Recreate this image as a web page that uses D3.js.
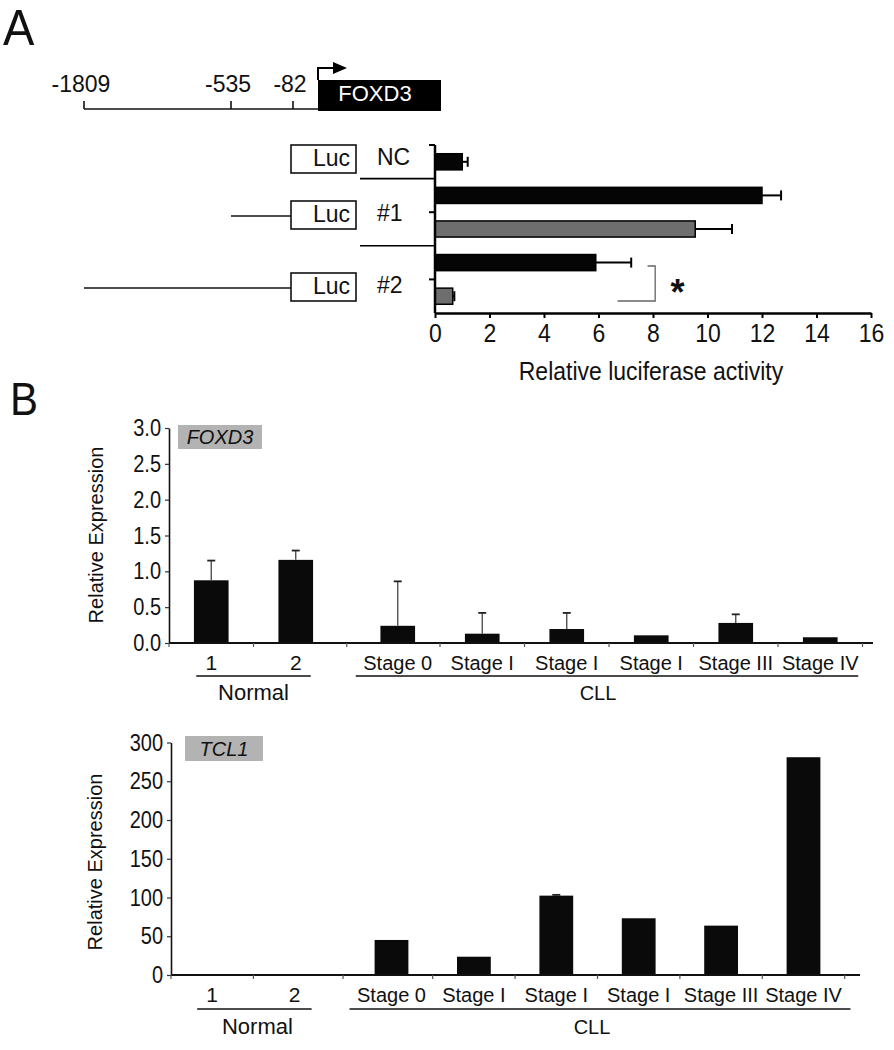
<!DOCTYPE html>
<html><head><meta charset="utf-8">
<script src="https://cdn.jsdelivr.net/npm/d3@7"></script>
<style>
body{margin:0;background:#fff}
text{font-family:"Liberation Sans",Arial,Helvetica,sans-serif;fill:#111}
</style>
</head><body>
<svg id="c" width="894" height="1050"></svg>
<script>
// ---------------- Panel A data ----------------
const promoterSites = [-1809, -535, -82];
const constructs = ["NC", "#1", "#2"];
const constructStart = [null, -535, -1809];
const lucBlack = [1.0, 12.0, 5.9];
const lucBlackErr = [0.2, 0.7, 1.3];
const lucGrey = [null, 9.55, 0.65];
const lucGreyErr = [null, 1.35, 0.06];
const lucTicks = [0, 2, 4, 6, 8, 10, 12, 14, 16];

// ---------------- Panel B data ----------------
const sampleLabels = ["1", "2", "Stage 0", "Stage I", "Stage I", "Stage I", "Stage III", "Stage IV"];
const sampleGroups = ["Normal", "Normal", "CLL", "CLL", "CLL", "CLL", "CLL", "CLL"];
const foxd3Values = [0.875, 1.16, 0.24, 0.13, 0.195, 0.107, 0.28, 0.08];
const foxd3Err = [0.275, 0.13, 0.62, 0.29, 0.225, 0, 0.12, 0];
const foxd3Ticks = [0, 0.5, 1, 1.5, 2, 2.5, 3];
const tcl1Values = [1.0, 1.2, 45.2, 23.6, 102.4, 73.2, 63.7, 281];
const tcl1Err = [0, 0, 0, 0, 1.0, 0, 0, 0];
const tcl1Ticks = [0, 50, 100, 150, 200, 250, 300];

const svg = d3.select("#c");
svg.append("rect").attr("width", 894).attr("height", 1050).attr("fill", "#fff");

// text with a slight vertical stretch (reference glyphs are taller than wide)
function stretchText(sel, x, y, s) {
  return sel.append("text").attr("transform", `translate(${x},${y}) scale(1,${s})`);
}

// ================= PANEL A =================
stretchText(svg, 3, 45, 1.05).attr("font-size", 47).text("A");

// promoter map (schematic, not to scale)
const px = d3.scaleLinear().domain([-1809, -535, -82, 0]).range([84, 231, 293, 318]);
const mapY = 109;
svg.append("line").attr("x1", px(-1809)).attr("x2", px(0)).attr("y1", mapY).attr("y2", mapY)
  .attr("stroke", "#111").attr("stroke-width", 1.6);
promoterSites.forEach(s => {
  svg.append("line").attr("x1", px(s)).attr("x2", px(s)).attr("y1", mapY).attr("y2", mapY - 8)
    .attr("stroke", "#111").attr("stroke-width", 1.6);
  svg.append("text").attr("x", px(s) - 3).attr("y", 92).attr("text-anchor", "middle")
    .attr("font-size", 23).text(s);
});
svg.append("rect").attr("x", px(0)).attr("y", 80).attr("width", 123).attr("height", 31).attr("fill", "#000");
svg.append("text").attr("x", px(0) + 57).attr("y", 101).attr("text-anchor", "middle")
  .attr("font-size", 22).style("fill", "#fff").text("FOXD3");
svg.append("path").attr("d", `M${px(0)},80V68H335`).attr("fill", "none").attr("stroke", "#000").attr("stroke-width", 2);
svg.append("path").attr("d", `M333,62L347,68L333,74Z`).attr("fill", "#000");

// luciferase bar chart
const lx = d3.scaleLinear().domain([0, 16]).range([435, 871]);
const barRows = [];
constructs.forEach((c, i) => {
  barRows.push({ c, i, s: "black", v: lucBlack[i], e: lucBlackErr[i] });
  if (lucGrey[i] != null) barRows.push({ c, i, s: "grey", v: lucGrey[i], e: lucGreyErr[i] });
});
const ly = d3.scaleBand().domain(barRows.map((d, k) => k)).range([145, 313])
  .paddingInner(0.52).paddingOuter(0.26);
const bw = ly.bandwidth();
const gBars = svg.append("g");
barRows.forEach((d, k) => {
  const y = ly(k);
  gBars.append("rect").attr("x", lx(0)).attr("y", y).attr("width", lx(d.v) - lx(0)).attr("height", bw)
    .attr("fill", d.s === "black" ? "#050505" : "#6e6e6e").attr("stroke", "#000").attr("stroke-width", 1.5);
  const cy = y + bw / 2;
  gBars.append("line").attr("x1", lx(d.v)).attr("x2", lx(d.v + d.e)).attr("y1", cy).attr("y2", cy)
    .attr("stroke", "#000").attr("stroke-width", 2);
  gBars.append("line").attr("x1", lx(d.v + d.e)).attr("x2", lx(d.v + d.e)).attr("y1", cy - 5).attr("y2", cy + 5)
    .attr("stroke", "#000").attr("stroke-width", 2);
});
// y axis of luciferase chart
const yAxisA = svg.append("g");
yAxisA.append("line").attr("x1", lx(0)).attr("x2", lx(0)).attr("y1", 145).attr("y2", 313)
  .attr("stroke", "#000").attr("stroke-width", 2.5);
yAxisA.append("line").attr("x1", lx(0) - 6).attr("x2", lx(0)).attr("y1", 145).attr("y2", 145)
  .attr("stroke", "#000").attr("stroke-width", 2);
const step = ly.step();
let k0 = 0;
constructs.forEach((c, i) => {
  const n = barRows.filter(d => d.i === i).length;
  if (n === 2) {
    const t = ly(k0) + bw + (step - bw) / 2;
    yAxisA.append("line").attr("x1", lx(0) - 6).attr("x2", lx(0)).attr("y1", t).attr("y2", t)
      .attr("stroke", "#000").attr("stroke-width", 2);
  }
  k0 += n;
  if (i < constructs.length - 1) {
    const sep = ly(k0 - 1) + bw + (step - bw) / 2;
    yAxisA.append("line").attr("x1", 360).attr("x2", lx(0)).attr("y1", sep).attr("y2", sep)
      .attr("stroke", "#000").attr("stroke-width", 1.6);
  }
});
const xAxisA = svg.append("g").attr("transform", "translate(0,313)")
  .call(d3.axisBottom(lx).tickValues(lucTicks).tickSize(5).tickSizeOuter(0).tickPadding(7));
xAxisA.select(".domain").attr("stroke", "#000").attr("stroke-width", 2.5);
xAxisA.selectAll(".tick line").attr("stroke", "#000").attr("stroke-width", 2);
xAxisA.selectAll(".tick text").attr("font-size", 23).attr("font-family", null).style("fill", "#111")
  .attr("y", 0).attr("dy", null).attr("transform", "translate(0,29) scale(1,1.12)");
stretchText(svg, 651, 380, 1.12).attr("text-anchor", "middle").attr("font-size", 23)
  .text("Relative luciferase activity");
// significance bracket
svg.append("path").attr("d", `M${lx(6.7)},301H${lx(8.08)}V266H${lx(7.8)}`)
  .attr("fill", "none").attr("stroke", "#666").attr("stroke-width", 1.3);
svg.append("text").attr("x", lx(8.9)).attr("y", 305).attr("text-anchor", "middle")
  .attr("font-size", 36).attr("font-weight", "bold").text("*");

// construct schematics
const rowY = d3.scaleOrdinal().domain(constructs).range([159, 215, 287]);
constructs.forEach((c, i) => {
  const cy = rowY(c);
  if (constructStart[i] != null) {
    svg.append("line").attr("x1", px(constructStart[i])).attr("x2", 291).attr("y1", cy + 1).attr("y2", cy + 1)
      .attr("stroke", "#111").attr("stroke-width", 1.6);
  }
  svg.append("rect").attr("x", 291).attr("y", cy - 14).attr("width", 65).attr("height", 28)
    .attr("fill", "#fff").attr("stroke", "#111").attr("stroke-width", 1.6);
  stretchText(svg, 350, cy + 7, 1.08).attr("text-anchor", "end").attr("font-size", 23).text("Luc");
  svg.append("text").attr("x", 377).attr("y", cy + 6).attr("font-size", 23).text(c);
});

// ================= PANEL B =================
stretchText(svg, 10, 415, 1.12).attr("font-size", 42).text("B");

function drawExpr(cfg) {
  const g = svg.append("g");
  const n = sampleLabels.length;
  const band = d3.scaleBand().domain(d3.range(n)).range([cfg.x0, cfg.x0 + n * cfg.step])
    .paddingInner(0.59).paddingOuter(0.295);
  const off = i => sampleGroups[i] === "CLL" ? cfg.gap : 0;
  const cx = i => band(i) + off(i) + band.bandwidth() / 2;
  const y = d3.scaleLinear().domain(cfg.domain).range([cfg.yBot, cfg.yTop]);
  const w = band.bandwidth();

  // bars
  cfg.values.forEach((v, i) => {
    g.append("rect").attr("x", cx(i) - w / 2).attr("y", y(v)).attr("width", w).attr("height", y(0) - y(v))
      .attr("fill", "#0a0a0a");
    const e = cfg.err[i];
    if (e > 0) {
      g.append("line").attr("x1", cx(i)).attr("x2", cx(i)).attr("y1", y(v)).attr("y2", y(v + e))
        .attr("stroke", "#444").attr("stroke-width", 1.3);
      g.append("line").attr("x1", cx(i) - 4).attr("x2", cx(i) + 4).attr("y1", y(v + e)).attr("y2", y(v + e))
        .attr("stroke", "#222").attr("stroke-width", 1.8);
    }
  });

  // y axis
  const ya = g.append("g").attr("transform", `translate(${cfg.x0},0)`)
    .call(d3.axisLeft(y).tickValues(cfg.ticks).tickFormat(d3.format(cfg.fmt)).tickSize(4).tickSizeOuter(0).tickPadding(4));
  ya.select(".domain").attr("stroke", "#111").attr("stroke-width", 1.6);
  ya.selectAll(".tick line").attr("stroke", "#333").attr("stroke-width", 1.2);
  ya.selectAll(".tick text").attr("font-size", 20).attr("font-family", null).style("fill", "#111")
    .attr("transform", "scale(1,1.18)");

  // x axis
  g.append("line").attr("x1", cfg.x0).attr("x2", cfg.axisEnd).attr("y1", y(0)).attr("y2", y(0))
    .attr("stroke", "#111").attr("stroke-width", 2);
  for (let i = 0; i <= n; i++) {
    let b;
    if (i < n && i > 0 && sampleGroups[i] !== sampleGroups[i - 1]) b = cfg.x0 + i * cfg.step + cfg.gap / 2;
    else b = cfg.x0 + i * cfg.step + (i === 0 ? 0 : off(Math.min(i, n - 1)));
    g.append("line").attr("x1", b).attr("x2", b).attr("y1", y(0)).attr("y2", y(0) + 4)
      .attr("stroke", "#555").attr("stroke-width", 1.2);
  }
  sampleLabels.forEach((l, i) => {
    g.append("text").attr("x", cx(i)).attr("y", cfg.catBase).attr("text-anchor", "middle")
      .attr("font-size", l.length < 3 ? 21 : 20).text(l);
  });
  // group underlines and labels
  const groups = Array.from(new Set(sampleGroups));
  groups.forEach(gr => {
    const idx = d3.range(n).filter(i => sampleGroups[i] === gr);
    const pad = cfg.underPad[gr];
    const x1 = cx(idx[0]) - pad[0], x2 = cx(idx[idx.length - 1]) + pad[1];
    g.append("line").attr("x1", x1).attr("x2", x2).attr("y1", cfg.underY).attr("y2", cfg.underY)
      .attr("stroke", "#111").attr("stroke-width", 1.5);
    g.append("text").attr("x", (x1 + x2) / 2 + cfg.groupShift[gr]).attr("y", cfg.groupBase)
      .attr("text-anchor", "middle").attr("font-size", gr === "Normal" ? 22 : 20).text(gr);
  });

  // gene label box
  g.append("rect").attr("x", cfg.boxX).attr("y", cfg.boxY).attr("width", cfg.boxW).attr("height", cfg.boxH)
    .attr("fill", "#b3b3b3");
  g.append("text").attr("x", cfg.boxX + cfg.boxW / 2).attr("y", cfg.boxY + cfg.boxH / 2 + 7)
    .attr("text-anchor", "middle").attr("font-size", 20).attr("font-style", "italic").text(cfg.gene);

  // y title
  g.append("text").attr("transform", `translate(${cfg.ylabX},${cfg.ylabY}) rotate(-90)`)
    .attr("text-anchor", "middle").attr("font-size", 20).text("Relative Expression");
}

drawExpr({
  x0: 169, step: 84.5, gap: 17.5, yTop: 428, yBot: 643, domain: [0, 3], ticks: foxd3Ticks, fmt: ".1f",
  values: foxd3Values, err: foxd3Err, gene: "FOXD3",
  boxX: 178, boxY: 425, boxW: 84, boxH: 24, axisEnd: 873,
  catBase: 670, underY: 676, groupBase: 700,
  underPad: { Normal: [15, 15], CLL: [42, 38] }, groupShift: { Normal: 0, CLL: -9 },
  ylabX: 103, ylabY: 535
});
drawExpr({
  x0: 171, step: 82.4, gap: 14.5, yTop: 742.5, yBot: 975, domain: [0, 300], ticks: tcl1Ticks, fmt: "d",
  values: tcl1Values, err: tcl1Err, gene: "TCL1",
  boxX: 185, boxY: 736, boxW: 78, boxH: 25, axisEnd: 860,
  catBase: 1002, underY: 1009, groupBase: 1034,
  underPad: { Normal: [15, 17], CLL: [42, 47] }, groupShift: { Normal: 3, CLL: -8 },
  ylabX: 102, ylabY: 862
});
</script>
</body></html>
